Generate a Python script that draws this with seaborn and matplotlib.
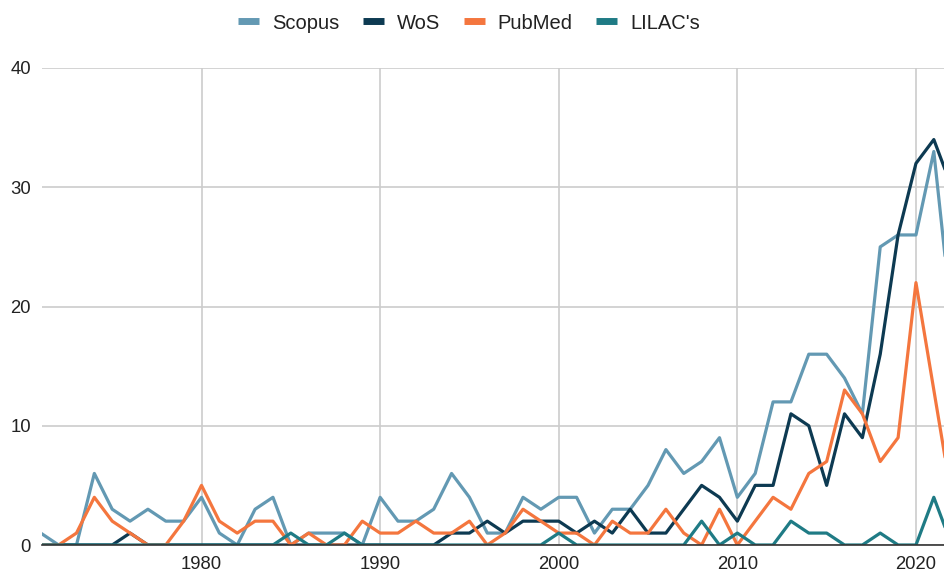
import numpy as np
import pandas as pd
import matplotlib
matplotlib.use("Agg")
import matplotlib.pyplot as plt
import seaborn as sns

# Publications per year and database
years = list(range(1971, 2023))

scopus = [1, 0, 0, 6, 3, 2, 3, 2, 2, 4,
          1, 0, 3, 4, 0, 1, 1, 1, 0, 4,
          2, 2, 3, 6, 4, 1, 1, 4, 3, 4,
          4, 1, 3, 3, 5, 8, 6, 7, 9, 4,
          6, 12, 12, 16, 16, 14, 11, 25, 26, 26,
          33, 19]

wos = [0, 0, 0, 0, 0, 1, 0, 0, 0, 0,
       0, 0, 0, 0, 0, 0, 0, 0, 0, 0,
       0, 0, 0, 1, 1, 2, 1, 2, 2, 2,
       1, 2, 1, 3, 1, 1, 3, 5, 4, 2,
       5, 5, 11, 10, 5, 11, 9, 16, 26, 32,
       34, 30]

pubmed = [0, 0, 1, 4, 2, 1, 0, 0, 2, 5,
          2, 1, 2, 2, 0, 1, 0, 0, 2, 1,
          1, 2, 1, 1, 2, 0, 1, 3, 2, 1,
          1, 0, 2, 1, 1, 3, 1, 0, 3, 0,
          2, 4, 3, 6, 7, 13, 11, 7, 9, 22,
          13, 4]

lilacs = [0, 0, 0, 0, 0, 0, 0, 0, 0, 0,
          0, 0, 0, 0, 1, 0, 0, 1, 0, 0,
          0, 0, 0, 0, 0, 0, 0, 0, 0, 1,
          0, 0, 0, 0, 0, 0, 0, 2, 0, 1,
          0, 0, 2, 1, 1, 0, 0, 1, 0, 0,
          4, 0]

series_names = ["Scopus", "WoS", "PubMed", "LILAC's"]
colors = ["#6399b3", "#0d3a52", "#f4763e", "#1f7b85"]

df = pd.DataFrame({"year": years, "Scopus": scopus, "WoS": wos,
                   "PubMed": pubmed, "LILAC's": lilacs})
long = df.melt(id_vars="year", var_name="source", value_name="count")

sns.set_style("white")
plt.rcParams["font.family"] = ["Liberation Sans", "DejaVu Sans"]

fig = plt.figure(figsize=(9.44, 5.77), dpi=100)
ax = fig.add_axes([42 / 944, 1 - 545 / 577, 1 - 42 / 944, (545 - 68) / 577])

sns.lineplot(data=long, x="year", y="count", hue="source",
             hue_order=series_names, palette=colors, linewidth=2.3, ax=ax)

ax.set_xlim(1971.07, 2021.57)
ax.set_ylim(0, 40)
ax.set_xticks([1980, 1990, 2000, 2010, 2020])
ax.set_yticks([0, 10, 20, 30, 40])
ax.grid(True, color="#cccccc", linewidth=1.2)
ax.set_axisbelow(True)
ax.set_xlabel("")
ax.set_ylabel("")
for side in ["top", "right", "left"]:
    ax.spines[side].set_visible(False)
ax.spines["bottom"].set_color("#333333")
ax.spines["bottom"].set_linewidth(1.2)
ax.tick_params(axis="both", length=0, labelsize=13.3, colors="#222222")
ax.tick_params(axis="x", pad=8)
ax.tick_params(axis="y", pad=8)

sns.move_legend(ax, "upper center", bbox_to_anchor=(0.497, 1.008),
                bbox_transform=fig.transFigure, ncol=4, frameon=False,
                title=None, fontsize=14.5, handlelength=1.05,
                columnspacing=1.15, handletextpad=0.65)
leg = ax.get_legend()
for line in leg.get_lines():
    line.set_linewidth(5)
    line.set_solid_capstyle("butt")
for t in leg.get_texts():
    t.set_color("#222222")

fig.savefig("out.png", dpi=100)
